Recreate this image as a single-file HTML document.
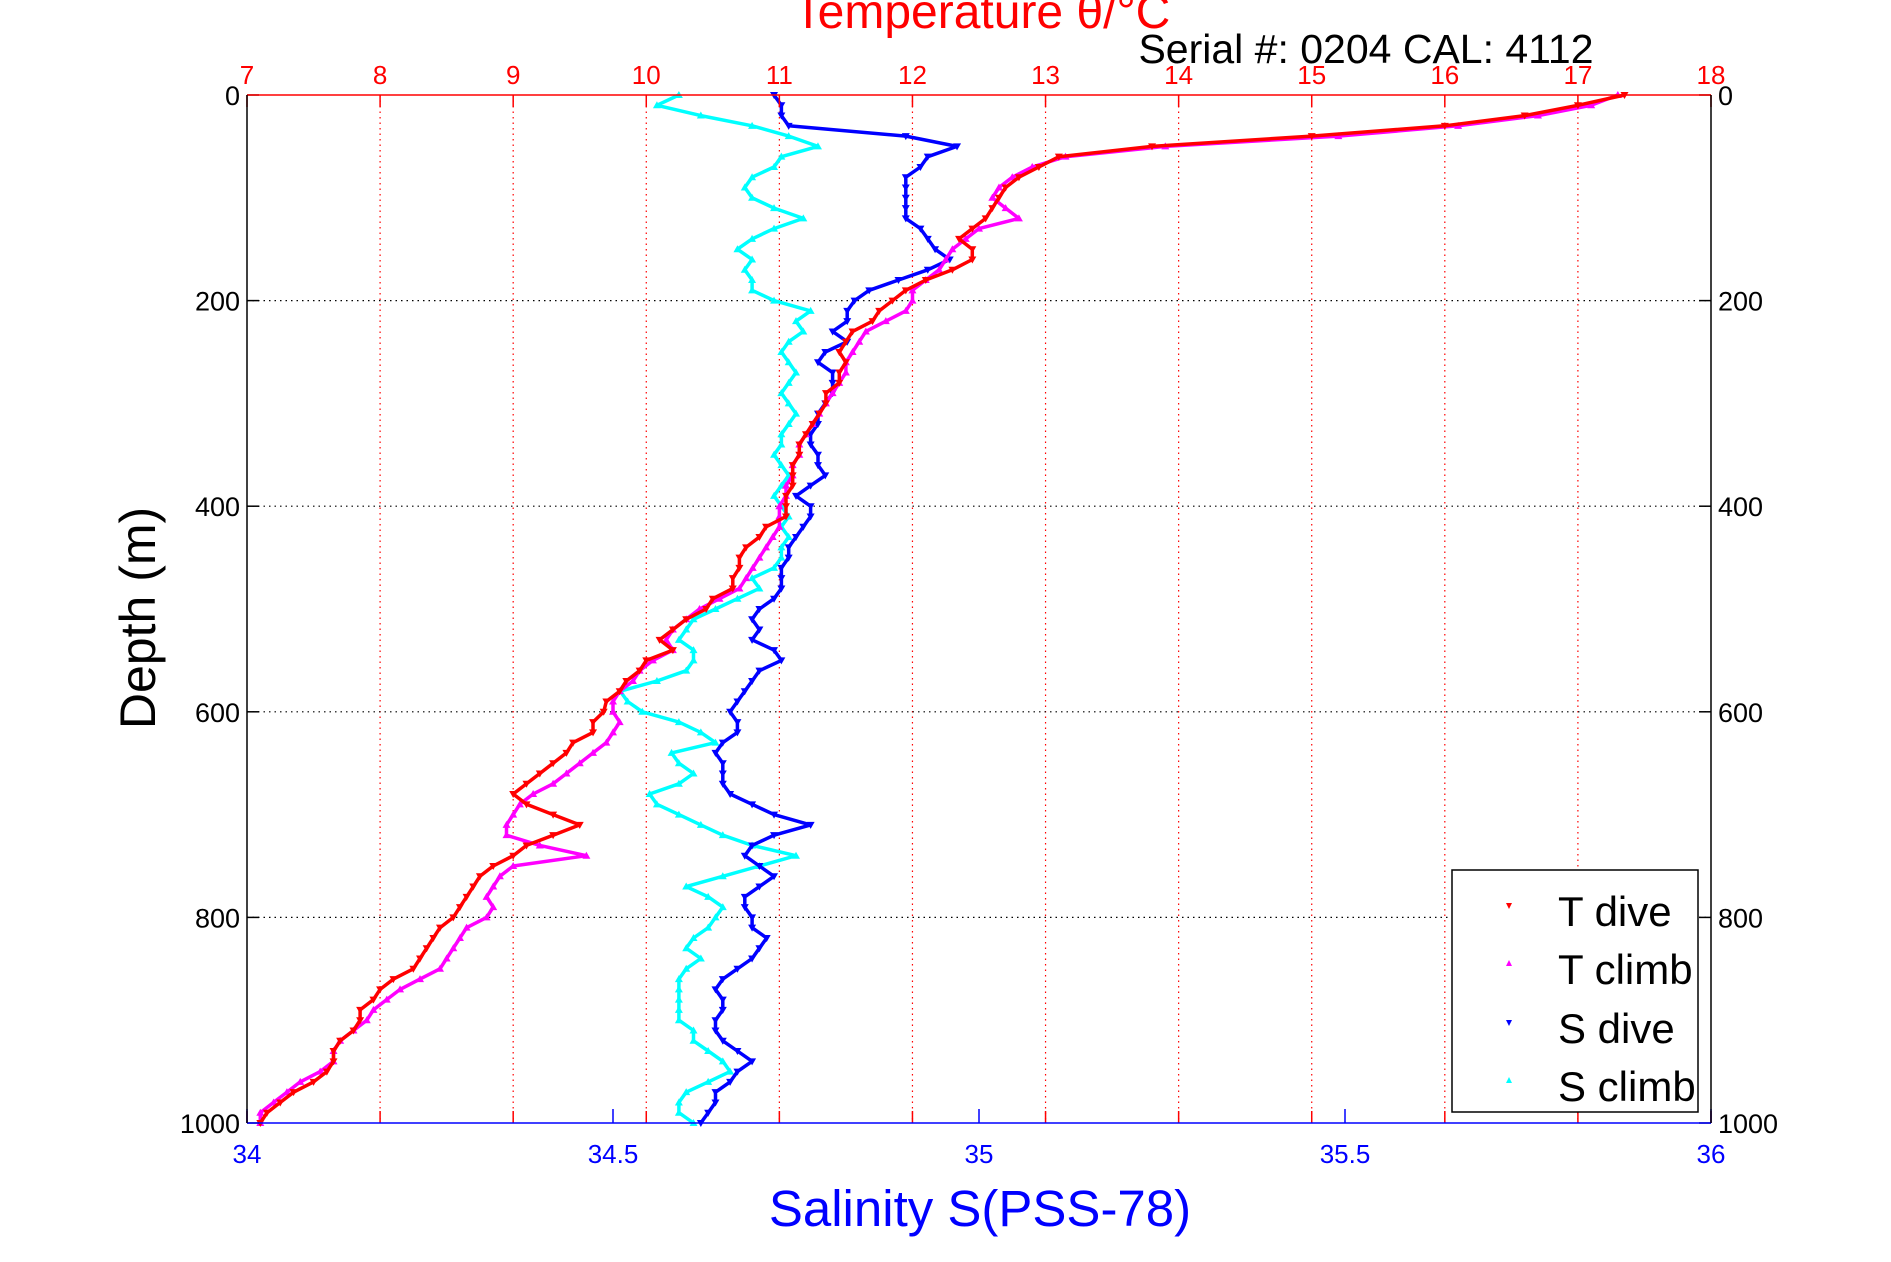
<!DOCTYPE html>
<html><head><meta charset="utf-8"><style>
html,body{margin:0;padding:0;background:#fff;}
svg{display:block;font-family:"Liberation Sans",sans-serif;}
</style></head><body>
<svg id="chart" width="1891" height="1262" viewBox="0 0 1891 1262" xmlns="http://www.w3.org/2000/svg">
<rect width="1891" height="1262" fill="#fff"/>
<g id="grid"></g>
<g id="series"></g>
<g id="axes"></g>
<text x="982" y="28" font-size="48" fill="#ff0000" text-anchor="middle">Temperature θ/°C</text>
<text x="1366" y="63" font-size="41" fill="#000" text-anchor="middle">Serial #: 0204  CAL: 4112</text>
<text x="0" y="0" font-size="50" fill="#000" text-anchor="middle" transform="translate(155,618) rotate(-90)">Depth (m)</text>
<text x="980" y="1226" font-size="51" fill="#0000ff" text-anchor="middle">Salinity S(PSS-78)</text>
<g>
<rect x="1452" y="870" width="246" height="242" fill="#fff" stroke="#000" stroke-width="1.5"/>
<polygon points="1506,903 1512,903 1509,909" fill="#ff0000"/>
<text x="1558" y="926" font-size="42">T dive</text>
<polygon points="1506,966 1512,966 1509,960" fill="#ff00ff"/>
<text x="1558" y="984" font-size="42">T climb</text>
<polygon points="1506,1020 1512,1020 1509,1026" fill="#0000ff"/>
<text x="1558" y="1043" font-size="42">S dive</text>
<polygon points="1506,1083 1512,1083 1509,1077" fill="#00ffff"/>
<text x="1558" y="1101" font-size="42">S climb</text>
</g>
</svg>
<script>
const depths = [0,10,20,30,40,50,60,70,80,90,100,110,120,130,140,150,160,170,180,190,200,210,220,230,240,250,260,270,280,290,300,310,320,330,340,350,360,370,380,390,400,410,420,430,440,450,460,470,480,490,500,510,520,530,540,550,560,570,580,590,600,610,620,630,640,650,660,670,680,690,700,710,720,730,740,750,760,770,780,790,800,810,820,830,840,850,860,870,880,890,900,910,920,930,940,950,960,970,980,990,1000];
const tDive = [17.35,17.0,16.6,16.0,15.0,13.8,13.1,12.95,12.8,12.7,12.65,12.6,12.55,12.45,12.35,12.45,12.45,12.3,12.1,11.95,11.85,11.75,11.7,11.55,11.5,11.45,11.5,11.45,11.45,11.35,11.35,11.3,11.25,11.2,11.15,11.15,11.1,11.1,11.1,11.05,11.05,11.05,10.9,10.85,10.75,10.7,10.7,10.65,10.65,10.5,10.45,10.3,10.2,10.1,10.2,10.0,9.95,9.85,9.8,9.7,9.68,9.6,9.6,9.45,9.4,9.3,9.2,9.1,9.0,9.1,9.3,9.5,9.3,9.1,9.0,8.85,8.75,8.7,8.65,8.6,8.55,8.45,8.4,8.35,8.3,8.25,8.1,8.0,7.95,7.85,7.85,7.8,7.7,7.65,7.65,7.6,7.5,7.35,7.25,7.15,7.1];
const tClimb = [17.3,17.1,16.7,16.1,15.2,13.9,13.15,12.9,12.75,12.65,12.6,12.7,12.8,12.5,12.4,12.3,12.25,12.2,12.1,12.0,12.0,11.95,11.8,11.65,11.6,11.55,11.5,11.5,11.45,11.4,11.35,11.3,11.25,11.2,11.15,11.15,11.1,11.1,11.05,11.05,11.0,11.0,11.0,10.95,10.9,10.85,10.8,10.75,10.7,10.55,10.4,10.3,10.2,10.15,10.2,10.05,9.95,9.9,9.8,9.75,9.75,9.8,9.75,9.7,9.6,9.5,9.4,9.3,9.15,9.05,9.0,8.95,8.95,9.2,9.55,9.0,8.9,8.85,8.8,8.85,8.8,8.65,8.6,8.55,8.5,8.45,8.3,8.15,8.05,7.95,7.9,7.8,7.7,7.65,7.65,7.55,7.4,7.3,7.2,7.1,7.1];
const sDive = [34.72,34.73,34.73,34.74,34.9,34.97,34.93,34.92,34.9,34.9,34.9,34.9,34.9,34.92,34.93,34.94,34.96,34.93,34.89,34.85,34.83,34.82,34.82,34.8,34.82,34.79,34.78,34.8,34.8,34.8,34.79,34.78,34.78,34.77,34.77,34.78,34.78,34.79,34.77,34.75,34.77,34.77,34.76,34.75,34.74,34.74,34.73,34.73,34.73,34.72,34.7,34.69,34.7,34.69,34.72,34.73,34.7,34.69,34.68,34.67,34.66,34.67,34.67,34.65,34.64,34.65,34.65,34.65,34.66,34.69,34.72,34.77,34.72,34.69,34.68,34.7,34.72,34.7,34.68,34.68,34.69,34.69,34.71,34.7,34.69,34.67,34.65,34.64,34.65,34.65,34.64,34.64,34.65,34.67,34.69,34.67,34.66,34.64,34.64,34.63,34.62];
const sClimb = [34.59,34.56,34.62,34.69,34.74,34.78,34.73,34.72,34.69,34.68,34.69,34.72,34.76,34.72,34.69,34.67,34.69,34.68,34.69,34.69,34.72,34.77,34.75,34.76,34.74,34.73,34.74,34.75,34.74,34.73,34.74,34.75,34.74,34.73,34.73,34.72,34.73,34.74,34.73,34.72,34.73,34.74,34.73,34.74,34.73,34.73,34.72,34.69,34.7,34.67,34.64,34.61,34.6,34.59,34.61,34.61,34.6,34.56,34.51,34.52,34.54,34.59,34.62,34.64,34.58,34.59,34.61,34.59,34.55,34.56,34.59,34.62,34.65,34.69,34.75,34.7,34.65,34.6,34.63,34.65,34.64,34.63,34.61,34.6,34.62,34.6,34.59,34.59,34.59,34.59,34.59,34.61,34.61,34.63,34.65,34.66,34.63,34.6,34.59,34.59,34.61];
const tempTicks = [7,8,9,10,11,12,13,14,15,16,17,18];
const salTicks = [34,34.5,35,35.5,36];
const depthTicks = [0,200,400,600,800,1000];

const L=247,R=1711,T=95,B=1123;
const NS="http://www.w3.org/2000/svg";
const xT = t => L + (t-7)/(18-7)*(R-L);
const xS = s => L + (s-34)/(36-34)*(R-L);
const yD = d => T + d/1000*(B-T);
function mk(tag, attrs, parent){const e=document.createElementNS(NS,tag);for(const k in attrs)e.setAttribute(k,attrs[k]);parent.appendChild(e);return e;}
const grid=document.getElementById('grid'), axes=document.getElementById('axes'), ser=document.getElementById('series');

tempTicks.forEach(t=>{
  const x=xT(t);
  if(t>7&&t<18){
    const g=mk('line',{x1:x,y1:T,x2:x,y2:B,stroke:'#ff0000','stroke-width':1.2,'stroke-dasharray':'1.5 4'},grid);
    
    
  }
  mk('line',{x1:x,y1:T,x2:x,y2:T+12,stroke:'#ff0000','stroke-width':1.5},axes);
  mk('line',{x1:x,y1:B,x2:x,y2:B-12,stroke:'#ff0000','stroke-width':1.5},axes);
  const tx=mk('text',{x:x,y:T-11,'font-size':26,fill:'#ff0000','text-anchor':'middle'},axes);
  tx.textContent=t;
  
  
});
depthTicks.forEach(d=>{
  const y=yD(d);
  if(d>0&&d<1000){
    const g=mk('line',{x1:L,y1:y,x2:R,y2:y,stroke:'#000','stroke-width':1.2,'stroke-dasharray':'1.5 4'},grid);
    
    
  }
  mk('line',{x1:L,y1:y,x2:L+12,y2:y,stroke:'#000','stroke-width':1.5},axes);
  mk('line',{x1:R,y1:y,x2:R-12,y2:y,stroke:'#000','stroke-width':1.5},axes);
  const a=mk('text',{x:L-7,y:y+10,'font-size':27,fill:'#000','text-anchor':'end'},axes);
  a.textContent=d;
  
  
  const b=mk('text',{x:R+7,y:y+10,'font-size':27,fill:'#000','text-anchor':'start'},axes);
  b.textContent=d;
  
  
});
salTicks.forEach(s=>{
  const x=xS(s);
  mk('line',{x1:x,y1:B,x2:x,y2:B-14,stroke:'#0000ff','stroke-width':1.5},axes);
  const tx=mk('text',{x:x,y:B+40,'font-size':26,fill:'#0000ff','text-anchor':'middle'},axes);
  tx.textContent=s;
  
  
});
mk('line',{x1:L,y1:T,x2:R,y2:T,stroke:'#ff0000','stroke-width':1.5},axes);
mk('line',{x1:L,y1:B,x2:R,y2:B,stroke:'#0000ff','stroke-width':1.5},axes);
mk('line',{x1:L,y1:T,x2:L,y2:B,stroke:'#000','stroke-width':1.5},axes);
mk('line',{x1:R,y1:T,x2:R,y2:B,stroke:'#000','stroke-width':1.5},axes);

function drawSeries(vals, xf, color, down, name){
  const g=mk('g',{},ser);
  
  
  const pts=vals.map((v,i)=>xf(v).toFixed(1)+','+yD(depths[i]).toFixed(1)).join(' ');
  mk('polyline',{points:pts,fill:'none',stroke:color,'stroke-width':3.5,'stroke-linejoin':'round'},g);
  vals.forEach((v,i)=>{
    const x=xf(v), y=yD(depths[i]);
    const p = down ? `${x-4},${y-3} ${x+4},${y-3} ${x},${y+4}` : `${x-4},${y+3} ${x+4},${y+3} ${x},${y-4}`;
    const m=mk('polygon',{points:p,fill:color},g);
    
    
  });
}
drawSeries(sClimb, xS, '#00ffff', false, 's-climb-series');
drawSeries(sDive, xS, '#0000ff', true, 's-dive-series');
drawSeries(tClimb, xT, '#ff00ff', false, 't-climb-series');
drawSeries(tDive, xT, '#ff0000', true, 't-dive-series');
</script>
</body></html>
